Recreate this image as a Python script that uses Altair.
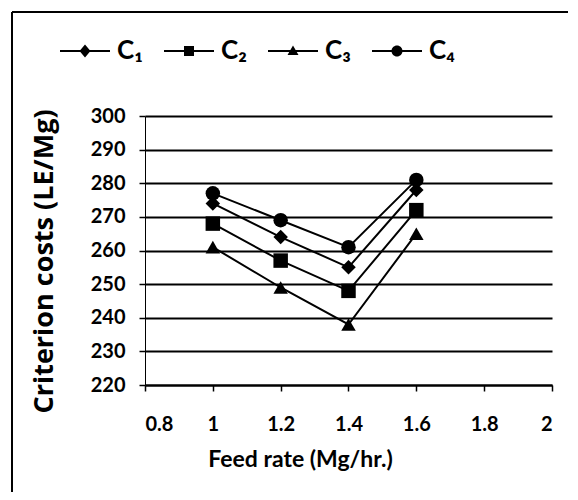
import altair as alt
import pandas as pd

feed_rate = [1.0, 1.2, 1.4, 1.6]
series = ["C₁", "C₂", "C₃", "C₄"]
c1 = [274, 264, 255, 278]
c2 = [268, 257, 248, 272]
c3 = [261, 249, 238, 265]
c4 = [277, 269, 261, 281]

x_ticks = [0.8, 1.0, 1.2, 1.4, 1.6, 1.8, 2.0]
y_ticks = [220, 230, 240, 250, 260, 270, 280, 290, 300]

rows = []
for name, vals in zip(series, [c1, c2, c3, c4]):
    for f, v in zip(feed_rate, vals):
        rows.append({"feed": f, "cost": v, "series": name})
df = pd.DataFrame(rows)

plot_shapes = ["diamond", "square", "triangle-up", "circle"]
bar = "M-1,-0.04L1,-0.04L1,0.04L-1,0.04Z"
legend_shapes = [
    bar + "M-0.22,0L0,-0.26L0.22,0L0,0.26Z",
    bar + "M-0.2,-0.2L0.2,-0.2L0.2,0.2L-0.2,0.2Z",
    bar + "M-0.22,0.16L0,-0.22L0.22,0.16Z",
    bar + "M-0.22,0A0.22,0.22 0 1,1 0.22,0A0.22,0.22 0 1,1 -0.22,0Z",
]

x = alt.X(
    "feed:Q",
    scale=alt.Scale(domain=[0.8, 2.0], nice=False, zero=False),
    axis=alt.Axis(
        values=x_ticks, format="~g", title="Feed rate (Mg/hr.)", grid=False,
        labelPadding=23, titlePadding=14, tickSize=6,
        domainColor="black", domainWidth=2, tickColor="black", tickWidth=1.5,
        titleFontSize=23, titleX=155, titleAlign="center",
    ),
)
y = alt.Y(
    "cost:Q",
    scale=alt.Scale(domain=[220, 300], nice=False, zero=False),
    axis=alt.Axis(
        values=y_ticks, title="Criterion costs (LE/Mg)", grid=True,
        gridColor="black", gridWidth=1.8, gridOpacity=1,
        labelPadding=14, titlePadding=32, tickSize=6,
        domainColor="black", domainWidth=1, tickColor="black", tickWidth=1.5,
        titleFont="Open Sans", titleFontSize=27, titleY=145, titleAlign="center",
    ),
)

lines = alt.Chart(df).mark_line(color="black", strokeWidth=2).encode(
    x=x, y=y, detail="series:N"
)
points = alt.Chart(df).mark_point(filled=True, color="black", size=210, opacity=1).encode(
    x=x, y=y,
    shape=alt.Shape("series:N", scale=alt.Scale(domain=series, range=plot_shapes), legend=None),
)
legend_layer = alt.Chart(df).mark_point(
    filled=True, color="black", opacity=0
).encode(
    x=x, y=y,
    shape=alt.Shape(
        "series:N",
        scale=alt.Scale(domain=series, range=legend_shapes),
        legend=alt.Legend(
            title=None, orient="none", legendX=-86, legendY=-91,
            direction="horizontal", columns=4, symbolSize=2500,
            symbolFillColor="black", symbolOpacity=1,
            labelFont="Lato", labelFontSize=26, labelFontWeight="bold",
            labelOffset=6, columnPadding=18, padding=0,
        ),
    ),
)
frame_df = pd.DataFrame({"a": [0]})
frame_top = alt.Chart(frame_df).mark_rule(color="black", strokeWidth=2).encode(
    x=alt.value(-133), x2=alt.value(423), y=alt.value(-104)
)
frame_left = alt.Chart(frame_df).mark_rule(color="black", strokeWidth=2).encode(
    x=alt.value(-133), y=alt.value(-104), y2=alt.value(376)
)

chart = (
    alt.layer(frame_top, frame_left, lines, points, legend_layer)
    .resolve_scale(shape="independent")
    .resolve_legend(shape="independent")
    .properties(
        width=407, height=269, autosize="none",
        padding={"left": 137, "top": 108, "right": 16, "bottom": 107},
        background="white",
    )
    .configure_view(stroke=None)
    .configure_axis(
        labelFont="Lato", labelFontSize=20, labelFontWeight="bold", labelColor="black",
        titleFont="Lato", titleFontWeight="bold", titleColor="black",
    )
)

chart.save("out.html", embed_options={"renderer": "svg", "actions": False})
